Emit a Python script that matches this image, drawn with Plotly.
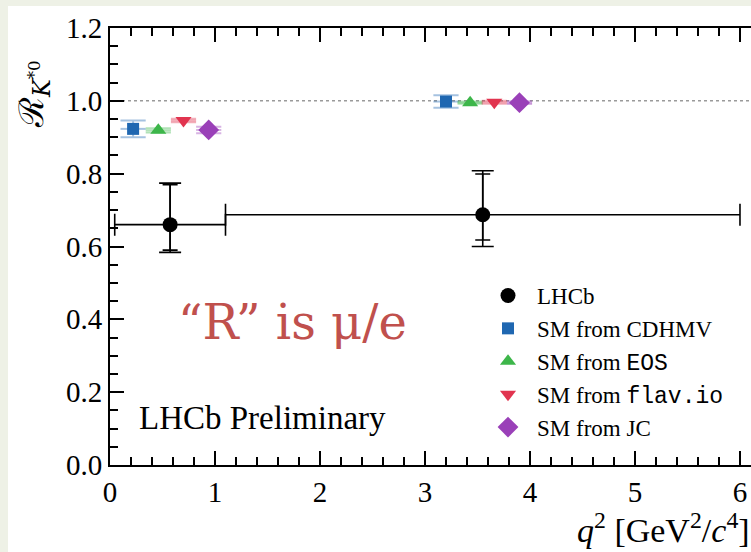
import plotly.graph_objects as go

# ---------------- data ----------------
LHCB_BIN_LO = [0.045, 1.1]
LHCB_BIN_HI = [1.1, 6.0]
LHCB_X = [0.5725, 3.55]
LHCB_Y = [0.660, 0.687]
LHCB_STAT_UP = [0.110, 0.112]
LHCB_STAT_DN = [0.070, 0.069]
LHCB_TOT_UP = [0.114, 0.121]
LHCB_TOT_DN = [0.076, 0.087]

SM_NAMES = ["CDHMV", "EOS", "flav.io", "JC"]
SM_X = {
    "CDHMV": [0.22, 3.20],
    "EOS": [0.46, 3.43],
    "flav.io": [0.70, 3.66],
    "JC": [0.94, 3.90],
}
SM_Y = {
    "CDHMV": [0.923, 0.998],
    "EOS": [0.919, 0.995],
    "flav.io": [0.946, 0.996],
    "JC": [0.920, 0.995],
}
SM_YERR = {
    "CDHMV": [0.023, 0.017],
    "EOS": [0.006, 0.003],
    "flav.io": [0.005, 0.004],
    "JC": [0.009, 0.004],
}
SM_XERR = 0.12
REF_LEVEL = 1.0

X_RANGE = [0, 6.105]
Y_RANGE = [0, 1.2]

# ---------------- style ----------------
W, H = 751, 552
ML, MR, MT, MB = 110, 0, 28, 87
PW = W - ML - MR
PH = H - MT - MB
PX_PER_X = PW / (X_RANGE[1] - X_RANGE[0])

SERIF = "Liberation Serif"
MONO = "Liberation Mono"
SM_STYLE = {
    "CDHMV": dict(symbol="square", size=12, color="#1f67b1", err="rgba(31,103,177,0.40)"),
    "EOS": dict(symbol="triangle-up", size=14, color="#3db64a", err="rgba(61,182,74,0.40)"),
    "flav.io": dict(symbol="triangle-down", size=14, color="#e1344f", err="rgba(225,52,79,0.40)"),
    "JC": dict(symbol="diamond", size=16, color="#9a40b8", err="rgba(154,64,184,0.40)"),
}
SM_LABEL = {
    "CDHMV": "SM from CDHMV",
    "EOS": f"SM from <span style=\"font-family:{MONO}\">EOS</span>",
    "flav.io": f"SM from <span style=\"font-family:{MONO}\">flav.io</span>",
    "JC": "SM from JC",
}

fig = go.Figure()

# LHCb statistical error (inner caps)
fig.add_trace(go.Scatter(
    x=LHCB_X, y=LHCB_Y, mode="markers",
    marker=dict(size=1, color="black"),
    error_y=dict(type="data", symmetric=False, array=LHCB_STAT_UP, arrayminus=LHCB_STAT_DN,
                 color="black", thickness=1.6, width=7.5),
    showlegend=False, hoverinfo="skip",
))
# LHCb total error + bins
fig.add_trace(go.Scatter(
    x=LHCB_X, y=LHCB_Y, mode="markers", name="LHCb",
    marker=dict(size=15, color="black", symbol="circle"),
    error_x=dict(type="data", symmetric=False,
                 array=[h - x for h, x in zip(LHCB_BIN_HI, LHCB_X)],
                 arrayminus=[x - l for l, x in zip(LHCB_BIN_LO, LHCB_X)],
                 color="black", thickness=1.6, width=11),
    error_y=dict(type="data", symmetric=False, array=LHCB_TOT_UP, arrayminus=LHCB_TOT_DN,
                 color="black", thickness=1.6, width=11),
    legendgroup="a",
))

for i, n in enumerate(SM_NAMES):
    st = SM_STYLE[n]
    fig.add_trace(go.Scatter(
        x=SM_X[n], y=SM_Y[n], mode="markers", name=SM_LABEL[n],
        marker=dict(size=st["size"], color=st["color"], symbol=st["symbol"]),
        error_x=dict(type="constant", value=SM_XERR, color=st["err"], thickness=2, width=0),
        error_y=dict(type="data", array=SM_YERR[n], color=st["err"], thickness=2,
                     width=SM_XERR * PX_PER_X),
        legendgroup=f"g{i}",
    ))

fig.add_shape(type="line", xref="paper", x0=0, x1=1, yref="y", y0=REF_LEVEL, y1=REF_LEVEL,
              line=dict(color="#9a9a9a", width=1.5, dash="dot"), layer="below")

# page border bands (light grey-green frame of the slide)
def px_to_paper_x(px):
    return (px - ML) / PW

def px_to_paper_y(py):
    return (H - MB - py) / PH

fig.add_shape(type="rect", xref="paper", yref="paper",
              x0=px_to_paper_x(0), x1=px_to_paper_x(8), y0=px_to_paper_y(H), y1=px_to_paper_y(0),
              fillcolor="#eef1e6", line=dict(width=0), layer="below")
fig.add_shape(type="rect", xref="paper", yref="paper",
              x0=px_to_paper_x(0), x1=px_to_paper_x(W), y0=px_to_paper_y(6), y1=px_to_paper_y(0),
              fillcolor="#eef1e6", line=dict(width=0), layer="below")

# texts
fig.add_annotation(text="ℛ<sub><i>K</i><sup>*0</sup></sub>", xref="paper", yref="paper",
                   x=px_to_paper_x(34), y=px_to_paper_y(94), textangle=-90, showarrow=False,
                   font=dict(family="DejaVu Serif", size=34, color="black"),
                   xanchor="center", yanchor="middle")
fig.add_annotation(text="<i>q</i><sup>2</sup> [GeV<sup>2</sup>/<i>c</i><sup>4</sup>]",
                   xref="paper", yref="paper", x=px_to_paper_x(752), y=px_to_paper_y(528),
                   showarrow=False, xanchor="right", yanchor="middle",
                   font=dict(family=SERIF, size=34, color="black"))
fig.add_annotation(text="LHCb Preliminary", xref="paper", yref="paper",
                   x=px_to_paper_x(137), y=px_to_paper_y(418), showarrow=False,
                   xanchor="left", yanchor="middle",
                   font=dict(family=SERIF, size=33, color="black"))
fig.add_annotation(text="“R” is μ/e", xref="paper", yref="paper",
                   x=px_to_paper_x(176), y=px_to_paper_y(322), showarrow=False,
                   xanchor="left", yanchor="middle",
                   font=dict(family="DejaVu Serif", size=48, color="#c0504d"))

axis_common = dict(
    showline=True, linewidth=2, linecolor="black", ticks="inside", tickwidth=1.5,
    tickcolor="black", ticklen=14, showgrid=False, zeroline=False,
    tickfont=dict(family=SERIF, size=29, color="black"),
)
fig.update_layout(
    width=W, height=H,
    margin=dict(l=ML, r=MR, t=MT, b=MB, pad=0),
    paper_bgcolor="white", plot_bgcolor="white",
    xaxis=dict(range=X_RANGE, dtick=1, tick0=0, mirror="ticks",
               minor=dict(dtick=0.2, ticklen=8, ticks="inside", tickwidth=1.5, tickcolor="black"),
               **axis_common),
    yaxis=dict(range=Y_RANGE, dtick=0.2, tick0=0, tickformat=".1f", mirror=False,
               minor=dict(dtick=0.05, ticklen=8, ticks="inside", tickwidth=1.5, tickcolor="black"),
               **axis_common),
    yaxis2=dict(range=Y_RANGE, overlaying="y", side="right", dtick=0.2, tick0=0,
                showline=False, ticks="inside", ticklen=10, tickwidth=1.5, tickcolor="black",
                showticklabels=False, showgrid=False, zeroline=False,
                minor=dict(dtick=0.05, ticklen=6, ticks="inside", tickwidth=1.5, tickcolor="black")),
    legend=dict(x=px_to_paper_x(479), y=px_to_paper_y(274), xanchor="left", yanchor="top",
                bgcolor="rgba(0,0,0,0)", font=dict(family=SERIF, size=23, color="black"),
                tracegroupgap=0, itemsizing="trace", itemwidth=48),
    showlegend=True,
)

fig.write_html(
    "out.html",
    config={"displayModeBar": False},
    post_script="document.body.style.margin='0';document.body.style.overflow='hidden';",
)
